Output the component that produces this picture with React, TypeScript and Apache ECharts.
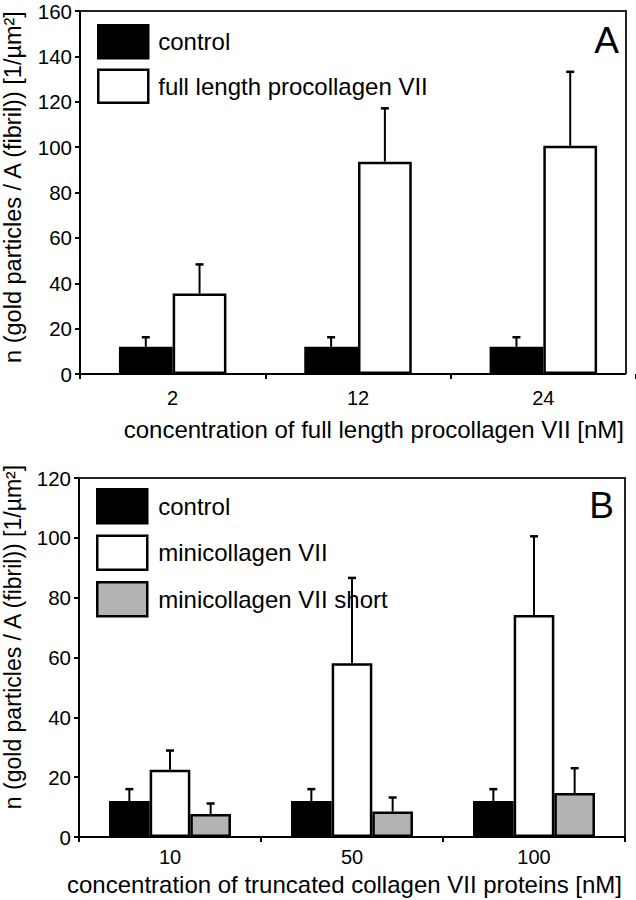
import React, { useEffect, useRef } from "react";
import * as echarts from "echarts";

// ---- Data ----
const categoriesA = ["2", "12", "24"];
const controlA = [12, 12, 12];
const controlAErr = [4.2, 4.2, 4.2];
const fullLengthA = [35.5, 93.6, 100.6];
const fullLengthAErr = [12.8, 23.5, 32.6];

const categoriesB = ["10", "50", "100"];
const controlB = [12, 12, 12];
const controlBErr = [4, 4, 4];
const miniB = [22.5, 58.1, 74.2];
const miniBErr = [6.4, 28.5, 26.3];
const miniShortB = [7.7, 8.5, 14.7];
const miniShortBErr = [3.5, 4.7, 8.3];

const yMaxA = 160;
const yMaxB = 120;
const yStep = 20;

const FONT = "'Liberation Sans', Arial, sans-serif";
const GAP_A = 0.42;
const GAP_B = 0.33;

function errorSeries(
  vals: number[],
  errs: number[],
  axisIdx: number,
  idx: number,
  n: number,
  gap: number
) {
  return {
    type: "custom",
    xAxisIndex: axisIdx,
    yAxisIndex: axisIdx,
    z: 5,
    silent: true,
    renderItem: (params: any, api: any) => {
      const c = api.value(0);
      const v = api.value(1);
      const e = api.value(2);
      const base = api.coord([c, v]);
      const top = api.coord([c, v + e]);
      const band = api.size([1, 0])[0];
      const group = band * (1 - gap);
      const bw = group / n;
      const x = base[0] - group / 2 + bw * (idx + 0.5);
      return {
        type: "group",
        children: [
          {
            type: "line",
            shape: { x1: x, y1: base[1], x2: x, y2: top[1] },
            style: { stroke: "#000", lineWidth: 2 },
          },
          {
            type: "line",
            shape: { x1: x - 4, y1: top[1], x2: x + 4, y2: top[1] },
            style: { stroke: "#000", lineWidth: 2.5 },
          },
        ],
      };
    },
    encode: { x: 0, y: 1 },
    data: vals.map((v, i) => [i, v, errs[i]]),
  };
}

const styles = {
  control: { color: "#000000", borderColor: "#000000", borderWidth: 2.5 },
  white: { color: "#ffffff", borderColor: "#000000", borderWidth: 2.5 },
  gray: { color: "#b3b3b3", borderColor: "#000000", borderWidth: 2.5 },
};

export default function App() {
  const ref = useRef<HTMLDivElement>(null);
  useEffect(() => {
    document.body.style.margin = "0";
    if (!ref.current) return;
    const chart = echarts.init(ref.current, null, { renderer: "svg" });
    const yAxisCommon = (max: number, gi: number) => ({
      type: "value",
      gridIndex: gi,
      min: 0,
      max,
      interval: yStep,
      splitLine: { show: false },
      axisLine: { show: true, lineStyle: { color: "#000", width: 2 } },
      axisTick: { show: true, inside: false, length: 5, lineStyle: { color: "#000", width: 2 } },
      axisLabel: { color: "#000", fontSize: 20.5, fontFamily: FONT, margin: 8 },
    });
    const xAxisCommon = (cats: string[], gi: number, margin: number) => ({
      type: "category",
      gridIndex: gi,
      data: cats,
      axisLine: { show: false },
      axisTick: { show: true, length: 5, lineStyle: { color: "#000", width: 2 } },
      axisLabel: { color: "#000", fontSize: 20, fontFamily: FONT, margin },
    });
    const option: any = {
      animation: false,
      backgroundColor: "#ffffff",
      grid: [
        { left: 80, top: 11, width: 560, height: 363 },
        { left: 79, top: 478, width: 546, height: 359 },
      ],
      xAxis: [xAxisCommon(categoriesA, 0, 14), xAxisCommon(categoriesB, 1, 10)],
      yAxis: [yAxisCommon(yMaxA, 0), yAxisCommon(yMaxB, 1)],
      legend: [
        {
          orient: "vertical",
          left: 97,
          top: 24,
          padding: 0,
          itemWidth: 50,
          itemHeight: 33,
          itemGap: 9,
          icon: "rect",
          selectedMode: false,
          textStyle: { fontSize: 24, color: "#000", fontFamily: FONT, padding: [0, 0, 0, 5] },
          data: [
            { name: "control", itemStyle: styles.control },
            { name: "full length procollagen VII", itemStyle: styles.white },
          ],
        },
        {
          orient: "vertical",
          left: 96,
          top: 488,
          padding: 0,
          itemWidth: 50,
          itemHeight: 34,
          itemGap: 10,
          icon: "rect",
          selectedMode: false,
          textStyle: { fontSize: 24, color: "#000", fontFamily: FONT, padding: [0, 0, 0, 6] },
          data: [
            { name: "control", itemStyle: styles.control },
            { name: "minicollagen VII", itemStyle: styles.white },
            { name: "minicollagen VII short", itemStyle: styles.gray },
          ],
        },
      ],
      series: [
        {
          name: "control",
          type: "bar",
          xAxisIndex: 0,
          yAxisIndex: 0,
          barGap: "0%",
          barCategoryGap: GAP_A * 100 + "%",
          itemStyle: styles.control,
          data: controlA,
        },
        {
          name: "full length procollagen VII",
          type: "bar",
          xAxisIndex: 0,
          yAxisIndex: 0,
          barGap: "0%",
          barCategoryGap: GAP_A * 100 + "%",
          itemStyle: styles.white,
          data: fullLengthA,
        },
        {
          name: "control",
          type: "bar",
          xAxisIndex: 1,
          yAxisIndex: 1,
          barGap: "0%",
          barCategoryGap: GAP_B * 100 + "%",
          itemStyle: styles.control,
          data: controlB,
        },
        {
          name: "minicollagen VII",
          type: "bar",
          xAxisIndex: 1,
          yAxisIndex: 1,
          barGap: "0%",
          barCategoryGap: GAP_B * 100 + "%",
          itemStyle: styles.white,
          data: miniB,
        },
        {
          name: "minicollagen VII short",
          type: "bar",
          xAxisIndex: 1,
          yAxisIndex: 1,
          barGap: "0%",
          barCategoryGap: GAP_B * 100 + "%",
          itemStyle: styles.gray,
          data: miniShortB,
        },
        errorSeries(controlA, controlAErr, 0, 0, 2, GAP_A),
        errorSeries(fullLengthA, fullLengthAErr, 0, 1, 2, GAP_A),
        errorSeries(controlB, controlBErr, 1, 0, 3, GAP_B),
        errorSeries(miniB, miniBErr, 1, 1, 3, GAP_B),
        errorSeries(miniShortB, miniShortBErr, 1, 2, 3, GAP_B),
      ],
      graphic: [
        // frames panel A
        { type: "polyline", shape: { points: [[80, 11], [626, 11], [626, 374]] }, style: { stroke: "#222", lineWidth: 2, fill: "none" }, z: 10 },
        { type: "line", shape: { x1: 80, y1: 374, x2: 626, y2: 374 }, style: { stroke: "#000", lineWidth: 2 }, z: 10 },
        // frames panel B
        { type: "polyline", shape: { points: [[79, 478], [625, 478], [625, 837]] }, style: { stroke: "#222", lineWidth: 2, fill: "none" }, z: 10 },
        { type: "line", shape: { x1: 79, y1: 837, x2: 625, y2: 837 }, style: { stroke: "#000", lineWidth: 2 }, z: 10 },
        // panel letters
        { type: "text", x: 619, y: 22, style: { text: "A", fontSize: 37, fontFamily: FONT, fill: "#000", textAlign: "right", textVerticalAlign: "top" } },
        { type: "text", x: 614, y: 487, style: { text: "B", fontSize: 37, fontFamily: FONT, fill: "#000", textAlign: "right", textVerticalAlign: "top" } },
        // axis titles
        { type: "text", x: 624, y: 429, style: { text: "concentration of full length procollagen VII [nM]", fontSize: 24, fontFamily: FONT, fill: "#000", textAlign: "right", textVerticalAlign: "middle" } },
        { type: "text", x: 622, y: 884, style: { text: "concentration of truncated collagen VII proteins [nM]", fontSize: 24, fontFamily: FONT, fill: "#000", textAlign: "right", textVerticalAlign: "middle" } },
        { type: "text", x: 13, y: 187, rotation: Math.PI / 2, style: { text: "n (gold particles / A (fibril)) [1/µm²]", fontSize: 23.5, fontFamily: FONT, fill: "#000", textAlign: "center", textVerticalAlign: "middle" } },
        { type: "text", x: 13, y: 637, rotation: Math.PI / 2, style: { text: "n (gold particles / A (fibril)) [1/µm²]", fontSize: 23, fontFamily: FONT, fill: "#000", textAlign: "center", textVerticalAlign: "middle" } },
      ],
    };
    chart.setOption(option);
    return () => chart.dispose();
  }, []);
  return <div ref={ref} style={{ width: 636, height: 900 }} />;
}
